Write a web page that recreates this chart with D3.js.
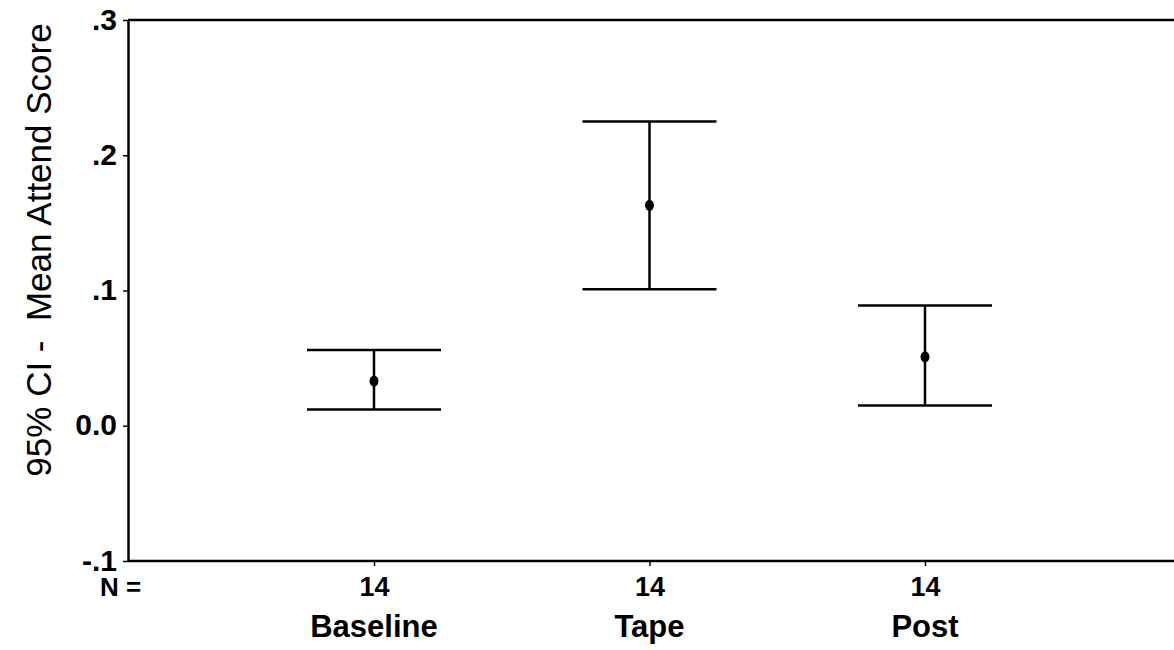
<!DOCTYPE html>
<html>
<head>
<meta charset="utf-8">
<script src="https://d3js.org/d3.v7.min.js"></script>
<style>
    body { margin: 0; background: #fff; }
    svg { display: block; }
    .tick text { font-family: "Liberation Sans", Arial, sans-serif; fill: #000; }
</style>
</head>
<body>
<div id="chart"></div>
<script>
// data
const groups = ["Baseline", "Tape", "Post"];
const counts = [14, 14, 14];
const means = [0.033, 0.163, 0.051];
const lower = [0.012, 0.101, 0.015];
const upper = [0.056, 0.225, 0.089];
const yTicks = [-0.1, 0, 0.1, 0.2, 0.3];
const yTickLabels = ["-.1", "0.0", ".1", ".2", ".3"];

const W = 1174, H = 650;
const plotLeft = 128, plotTop = 20, plotBottom = 561, plotRight = W;

const svg = d3.select("#chart").append("svg")
    .attr("width", W)
    .attr("height", H);

const y = d3.scaleLinear().domain([-0.1, 0.3]).range([plotBottom, plotTop]);
const x = d3.scalePoint().domain(groups).range([374, 925]);

// top frame line
svg.append("line")
    .attr("x1", plotLeft).attr("x2", plotRight)
    .attr("y1", y(0.3)).attr("y2", y(0.3))
    .attr("stroke", "#000").attr("stroke-width", 2.5);

// y axis
const yAxis = svg.append("g")
    .attr("transform", `translate(${plotLeft},0)`)
    .call(d3.axisLeft(y)
        .tickValues(yTicks)
        .tickFormat((d, i) => yTickLabels[i])
        .tickSize(5)
        .tickSizeOuter(0)
        .tickPadding(6));
yAxis.select(".domain").attr("stroke-width", 2.5);
yAxis.selectAll(".tick line").attr("stroke-width", 1.5);
yAxis.selectAll(".tick text")
    .attr("font-size", 30)
    .attr("font-weight", "bold")
    .attr("dy", "0.3em");

// x axis with N counts as tick labels
const xAxisG = svg.append("g")
    .attr("transform", `translate(0,${plotBottom})`)
    .call(d3.axisBottom(x)
        .tickFormat((d, i) => counts[i])
        .tickSize(5)
        .tickSizeOuter(0)
        .tickPadding(11));
xAxisG.select(".domain").remove();
xAxisG.append("line")
    .attr("x1", plotLeft).attr("x2", plotRight)
    .attr("stroke", "#000").attr("stroke-width", 2.5);
xAxisG.selectAll(".tick line").attr("stroke-width", 1.5);
xAxisG.selectAll(".tick text")
    .attr("font-size", 27)
    .attr("font-weight", "bold");

svg.append("text")
    .attr("x", 100).attr("y", 596)
    .attr("font-family", "Liberation Sans, Arial, sans-serif")
    .attr("font-size", 26)
    .attr("font-weight", "bold")
    .text("N =");

// category labels
svg.append("g").selectAll("text")
    .data(groups)
    .join("text")
    .attr("x", d => x(d))
    .attr("y", 637)
    .attr("text-anchor", "middle")
    .attr("font-family", "Liberation Sans, Arial, sans-serif")
    .attr("font-size", 31)
    .attr("font-weight", "bold")
    .text(d => d);

// y title
svg.append("text")
    .attr("transform", "translate(51,250) rotate(-90)")
    .attr("text-anchor", "middle")
    .attr("font-family", "Liberation Sans, Arial, sans-serif")
    .attr("font-size", 35)
    .style("white-space", "pre")
    .text("95% CI -  Mean Attend Score");

// error bars
const capHalf = 67;
const bars = svg.append("g").selectAll("g")
    .data(groups)
    .join("g");

bars.append("line")
    .attr("x1", d => x(d)).attr("x2", d => x(d))
    .attr("y1", (d, i) => y(upper[i])).attr("y2", (d, i) => y(lower[i]))
    .attr("stroke", "#000").attr("stroke-width", 2.5);

bars.append("line")
    .attr("x1", d => x(d) - capHalf).attr("x2", d => x(d) + capHalf)
    .attr("y1", (d, i) => y(upper[i])).attr("y2", (d, i) => y(upper[i]))
    .attr("stroke", "#000").attr("stroke-width", 2.5);

bars.append("line")
    .attr("x1", d => x(d) - capHalf).attr("x2", d => x(d) + capHalf)
    .attr("y1", (d, i) => y(lower[i])).attr("y2", (d, i) => y(lower[i]))
    .attr("stroke", "#000").attr("stroke-width", 2.5);

bars.append("ellipse")
    .attr("cx", d => x(d))
    .attr("cy", (d, i) => y(means[i]))
    .attr("rx", 4.5).attr("ry", 5.5)
    .attr("fill", "#000");
</script>
</body>
</html>
